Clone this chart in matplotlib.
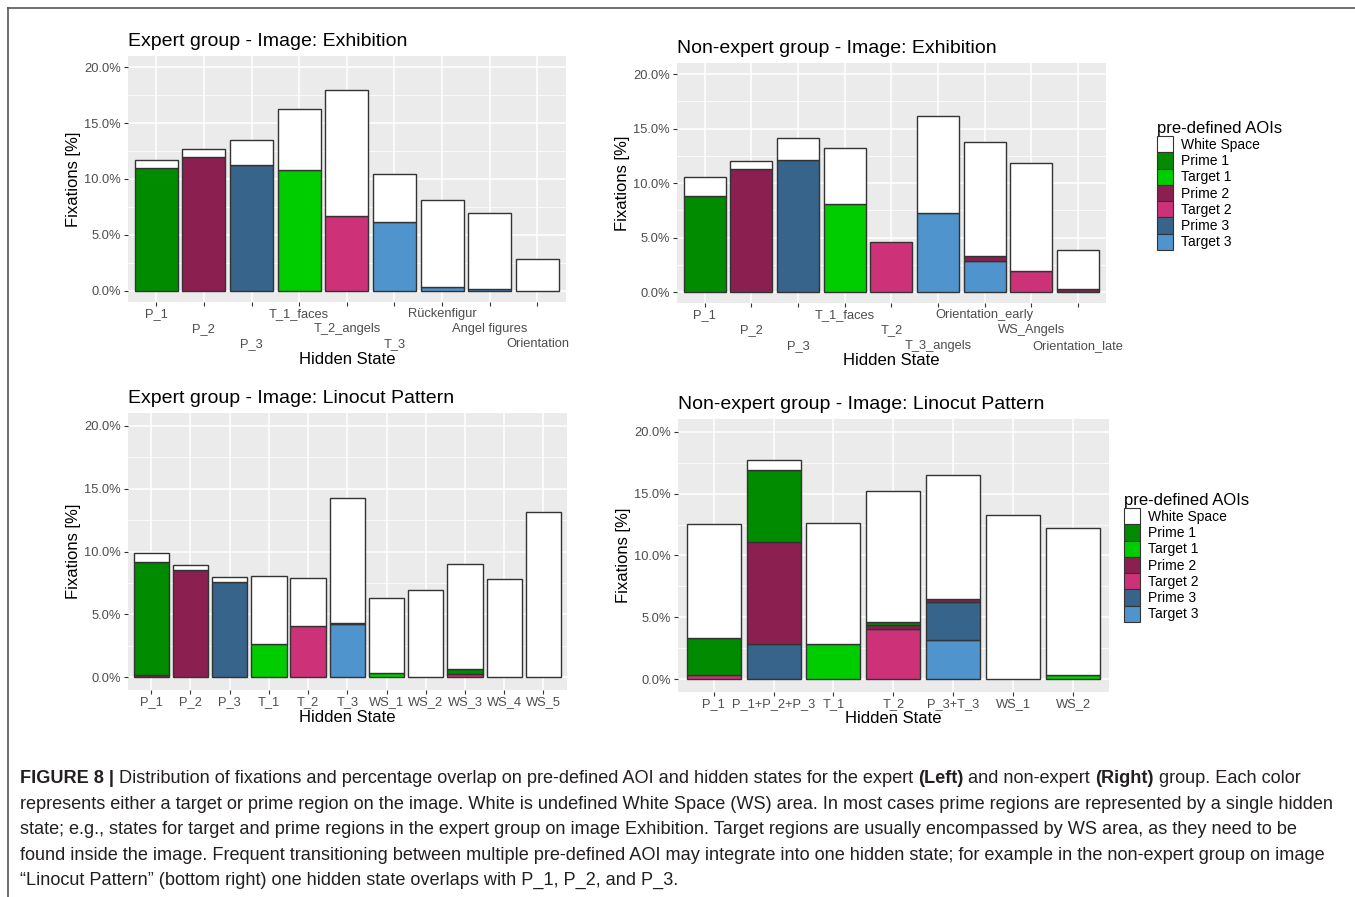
import matplotlib
matplotlib.use("Agg")
import matplotlib.pyplot as plt
from matplotlib.patches import Patch
from matplotlib.lines import Line2D
import numpy as np

plt.rcParams['font.family'] = ['Liberation Sans', 'DejaVu Sans']

W, H = 1355, 897

# AOI names, colours (legend order)
aoi_names = ['White Space', 'Prime 1', 'Target 1', 'Prime 2', 'Target 2', 'Prime 3', 'Target 3']
aoi_colors = ['#FFFFFF', '#008B00', '#00CD00', '#8B2050', '#CD3278', '#36648B', '#4F94CD']

# --- Expert group, Exhibition
ex_exh_states = ['P_1', 'P_2', 'P_3', 'T_1_faces', 'T_2_angels', 'T_3',
                 'Rückenfigur', 'Angel figures', 'Orientation']
ex_exh_ws      = [0.72, 0.72, 2.24, 5.47, 11.36, 4.24, 7.74, 6.73, 2.78]
ex_exh_prime1  = [11.0, 0, 0, 0, 0, 0, 0, 0, 0]
ex_exh_target1 = [0, 0, 0, 10.79, 0, 0, 0, 0, 0]
ex_exh_prime2  = [0, 11.93, 0, 0, 0, 0, 0, 0, 0]
ex_exh_target2 = [0, 0, 0, 0, 6.64, 0, 0, 0, 0]
ex_exh_prime3  = [0, 0, 11.24, 0, 0, 0, 0, 0, 0]
ex_exh_target3 = [0, 0, 0, 0, 0, 6.16, 0.36, 0.18, 0]

# --- Non-expert group, Exhibition
ne_exh_states = ['P_1', 'P_2', 'P_3', 'T_1_faces', 'T_2', 'T_3_angels',
                 'Orientation_early', 'WS_Angels', 'Orientation_late']
ne_exh_ws      = [1.74, 0.70, 1.96, 5.13, 0, 8.88, 10.5, 9.87, 3.61]
ne_exh_prime1  = [8.82, 0, 0, 0, 0, 0, 0, 0, 0]
ne_exh_target1 = [0, 0, 0, 8.09, 0, 0, 0, 0, 0]
ne_exh_prime2  = [0, 11.33, 0, 0, 0, 0, 0.4, 0, 0.24]
ne_exh_target2 = [0, 0, 0, 0, 4.64, 0, 0, 1.95, 0]
ne_exh_prime3  = [0, 0, 12.15, 0, 0, 0, 0, 0, 0]
ne_exh_target3 = [0, 0, 0, 0, 0, 7.27, 2.90, 0, 0]

# --- Expert group, Linocut Pattern
ex_lin_states = ['P_1', 'P_2', 'P_3', 'T_1', 'T_2', 'T_3',
                 'WS_1', 'WS_2', 'WS_3', 'WS_4', 'WS_5']
ex_lin_ws      = [0.74, 0.43, 0.37, 5.46, 3.84, 9.90, 5.98, 6.97, 8.35, 7.84, 13.17]
ex_lin_prime1  = [8.94, 0, 0, 0, 0, 0, 0, 0, 0.35, 0, 0]
ex_lin_target1 = [0, 0, 0, 2.62, 0, 0, 0.35, 0, 0, 0, 0]
ex_lin_prime2  = [0.2, 8.5, 0, 0, 0, 0, 0, 0, 0, 0, 0]
ex_lin_target2 = [0, 0, 0, 0, 4.05, 0, 0, 0, 0.3, 0, 0]
ex_lin_prime3  = [0, 0, 7.6, 0, 0, 0.1, 0, 0, 0, 0, 0]
ex_lin_target3 = [0, 0, 0, 0, 0, 4.25, 0, 0, 0, 0, 0]

# --- Non-expert group, Linocut Pattern
ne_lin_states = ['P_1', 'P_1+P_2+P_3', 'T_1', 'T_2', 'P_3+T_3', 'WS_1', 'WS_2']
ne_lin_ws      = [9.17, 0.76, 9.77, 10.57, 9.98, 13.3, 11.93]
ne_lin_prime1  = [3.03, 5.83, 0, 0.25, 0, 0, 0]
ne_lin_target1 = [0, 0, 2.89, 0, 0, 0, 0.32]
ne_lin_prime2  = [0, 8.26, 0, 0.25, 0.3, 0, 0]
ne_lin_target2 = [0.32, 0, 0, 4.10, 0, 0, 0]
ne_lin_prime3  = [0, 2.83, 0, 0, 3.05, 0, 0]
ne_lin_target3 = [0, 0, 0, 0, 3.16, 0, 0]

panels = [
    ('Expert group - Image: Exhibition', ex_exh_states,
     [ex_exh_ws, ex_exh_prime1, ex_exh_target1, ex_exh_prime2, ex_exh_target2, ex_exh_prime3, ex_exh_target3],
     (127.7, 56, 566, 301.7), 3),
    ('Non-expert group - Image: Exhibition', ne_exh_states,
     [ne_exh_ws, ne_exh_prime1, ne_exh_target1, ne_exh_prime2, ne_exh_target2, ne_exh_prime3, ne_exh_target3],
     (676.7, 63.3, 1106, 303), 3),
    ('Expert group - Image: Linocut Pattern', ex_lin_states,
     [ex_lin_ws, ex_lin_prime1, ex_lin_target1, ex_lin_prime2, ex_lin_target2, ex_lin_prime3, ex_lin_target3],
     (127.7, 413, 567, 690), 1),
    ('Non-expert group - Image: Linocut Pattern', ne_lin_states,
     [ne_lin_ws, ne_lin_prime1, ne_lin_target1, ne_lin_prime2, ne_lin_target2, ne_lin_prime3, ne_lin_target3],
     (677.7, 419.3, 1109, 691.7), 1),
]

fig = plt.figure(figsize=(W / 100, H / 100), dpi=100)

axes = []
for title, states, series, box, ndodge in panels:
    x0, y0, x1, y1 = box
    ax = fig.add_axes([x0 / W, 1 - y1 / H, (x1 - x0) / W, (y1 - y0) / H])
    axes.append(ax)
    ax.set_facecolor('#EBEBEB')
    for s in ax.spines.values():
        s.set_visible(False)
    xs = np.arange(1, len(states) + 1)
    # stack: last legend entry at the bottom, White Space on top
    bottom = np.zeros(len(states))
    for k in range(len(aoi_names) - 1, -1, -1):
        vals = np.array(series[k], dtype=float)
        m = vals > 0
        ax.bar(xs[m], vals[m], bottom=bottom[m], width=0.9, color=aoi_colors[k],
               edgecolor='#333333', linewidth=1.0, zorder=3)
        bottom += vals
    ax.set_xlim(0.4, len(states) + 0.6)
    ax.set_ylim(-1, 21)
    ax.set_yticks([0, 5, 10, 15, 20])
    ax.set_yticklabels(['0.0%', '5.0%', '10.0%', '15.0%', '20.0%'])
    ax.set_yticks([2.5, 7.5, 12.5, 17.5], minor=True)
    ax.set_xticks(xs)
    ax.set_xticklabels(states)
    ax.grid(True, which='major', color='white', linewidth=1.1, zorder=0)
    ax.grid(True, which='minor', axis='y', color='white', linewidth=0.55, zorder=0)
    ax.set_axisbelow(True)
    ax.tick_params(which='major', length=2.75, width=0.8, color='#333333',
                   labelcolor='#4D4D4D', labelsize=9.3, pad=2.2)
    ax.tick_params(which='minor', length=0)
    # staggered labels (three rows) for the long state names
    for i, tk in enumerate(ax.xaxis.get_major_ticks()):
        tk.set_pad(1.8 + 10.9 * (i % ndodge))
    ax.set_title(title, loc='left', fontsize=14, pad=7.5, color='black')
    ax.set_ylabel('Fixations [%]', fontsize=12, labelpad=2)
    ax.set_xlabel('Hidden State', fontsize=12, labelpad=1)

handles = [Patch(facecolor=c, edgecolor='#333333', linewidth=0.8) for c in aoi_colors]
for ax, xl, yc in [(axes[1], 1157, 185.5), (axes[3], 1124, 557.5)]:
    fig.legend(handles, aoi_names, loc='center left',
               bbox_to_anchor=(xl / W, 1 - yc / H), bbox_transform=fig.transFigure,
               frameon=False, fontsize=10, title='pre-defined AOIs', title_fontsize=12,
               alignment='left', handlelength=1.15, handleheight=1.42,
               labelspacing=0.0, handletextpad=0.6, borderpad=0, borderaxespad=0)

# frame lines
fig.add_artist(Line2D([8 / W, 8 / W], [0, 1 - 8 / H], transform=fig.transFigure,
                      color='#555555', linewidth=1.2))
fig.add_artist(Line2D([8 / W, 1], [1 - 8 / H, 1 - 8 / H], transform=fig.transFigure,
                      color='#555555', linewidth=1.2))

# caption
cap_lines = [
    [('FIGURE 8 |', True), ('Distribution of fixations and percentage overlap on pre-defined AOI and hidden states for the expert', False),
     ('(Left)', True), ('and non-expert', False), ('(Right)', True), ('group. Each color', False)],
    [('represents either a target or prime region on the image. White is undefined White Space (WS) area. In most cases prime regions are represented by a single hidden', False)],
    [('state; e.g., states for target and prime regions in the expert group on image Exhibition. Target regions are usually encompassed by WS area, as they need to be', False)],
    [('found inside the image. Frequent transitioning between multiple pre-defined AOI may integrate into one hidden state; for example in the non-expert group on image', False)],
    [('\u201cLinocut Pattern\u201d (bottom right) one hidden state overlaps with P_1, P_2, and P_3.', False)],
]
cap_y = [778, 804, 829.5, 855, 880.5]
cap_font = ['Liberation Sans']
cap_fs = 13.1
r = fig.canvas.get_renderer()
t1 = fig.text(0, 0, 'aa', fontsize=cap_fs, family=cap_font)
t2 = fig.text(0, 0, 'a a', fontsize=cap_fs, family=cap_font)
space_w = t2.get_window_extent(r).width - t1.get_window_extent(r).width
t1.remove()
t2.remove()
for parts, yy in zip(cap_lines, cap_y):
    xpx = 20
    for txt, bold in parts:
        t = fig.text(xpx / W, 1 - yy / H, txt, fontsize=cap_fs, family=cap_font,
                     fontweight='bold' if bold else 'normal', color='#231F20',
                     ha='left', va='center')
        xpx = t.get_window_extent(r).x1 + space_w

fig.savefig('out.png', dpi=100)
